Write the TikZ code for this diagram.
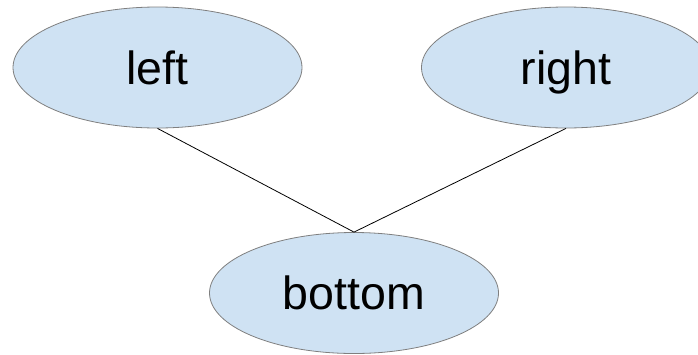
\documentclass[tikz,border=0pt]{standalone}
\usepackage{fontspec}
\setmainfont{Liberation Sans}
\usetikzlibrary{shapes.geometric}
\definecolor{ellfill}{HTML}{CFE2F3}
\definecolor{ellline}{HTML}{7F7F7F}
\begin{document}
\begin{tikzpicture}[x=1pt,y=-1pt,
  ell/.style={ellipse, draw=ellline, line width=0.8pt, fill=ellfill, minimum width=289pt, minimum height=121pt, inner sep=0pt, text height=33pt, text depth=0pt, font=\fontsize{46.5}{52}\selectfont},
  conn/.style={draw=black, line width=0.8pt}]
\useasboundingbox (0,0) rectangle (698,354);
\clip (0,0) rectangle (698,354);
\node[ell] (left) at (157.5,67.5) {left};
\node[ell] (right) at (566,67.5) {right};
\node[ell] (bottom) at (354,293) {bottom};
\draw[conn] (left.south) -- (bottom.north);
\draw[conn] (right.south) -- (bottom.north);
\end{tikzpicture}
\end{document}
